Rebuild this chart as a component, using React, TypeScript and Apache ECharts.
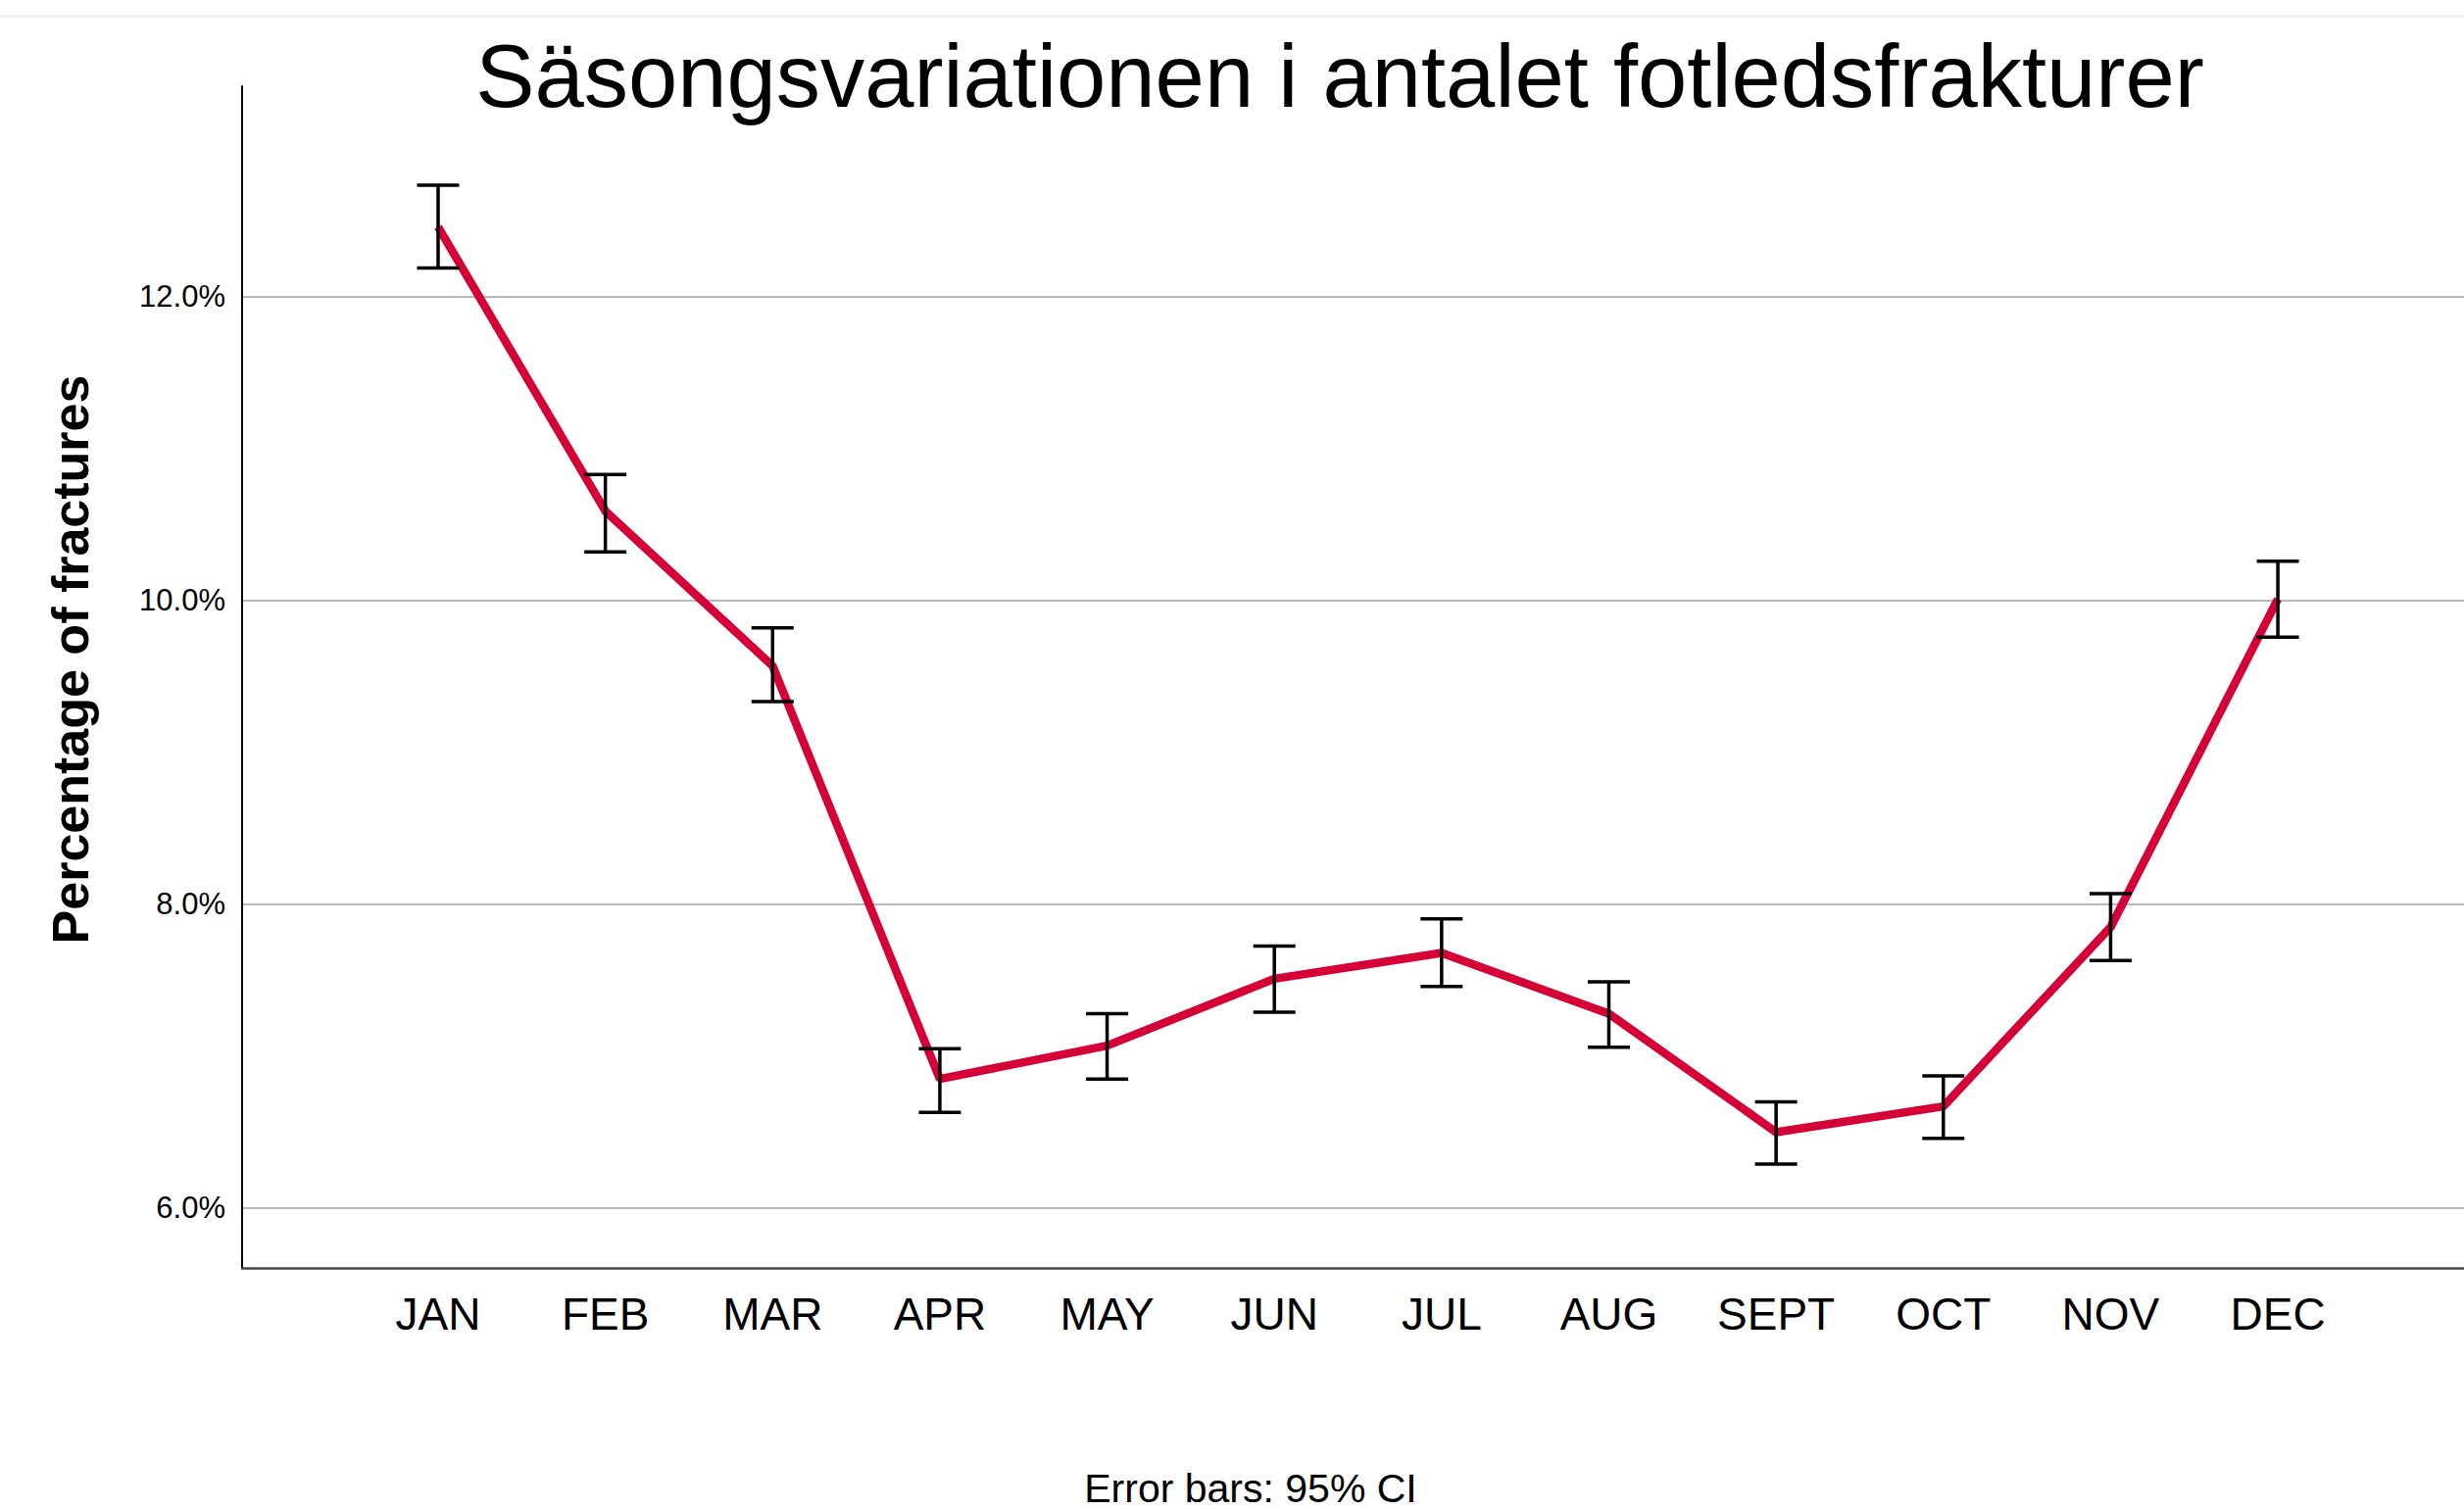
import React, { useEffect, useRef } from "react";
import * as echarts from "echarts";

const months = ["JAN", "FEB", "MAR", "APR", "MAY", "JUN", "JUL", "AUG", "SEPT", "OCT", "NOV", "DEC"];
const meanPct = [12.46, 10.59, 9.57, 6.85, 7.07, 7.51, 7.68, 7.28, 6.5, 6.67, 7.85, 10.01];
const lowerCI = [12.19, 10.32, 9.335, 6.63, 6.85, 7.29, 7.46, 7.06, 6.29, 6.46, 7.63, 9.76];
const upperCI = [12.735, 10.83, 9.82, 7.05, 7.28, 7.725, 7.905, 7.49, 6.7, 6.87, 8.07, 10.26];
const yTicks = [6, 8, 10, 12];

const titleText = "Säsongsvariationen i antalet fotledsfrakturer";
const yAxisTitle = "Percentage of fractures";
const footnote = "Error bars: 95% CI";

const FONT = "'Liberation Sans', Arial, Helvetica, sans-serif";

export default function App() {
  const ref = useRef<HTMLDivElement>(null);

  useEffect(() => {
    if (!ref.current) return;
    const chart = echarts.init(ref.current, undefined, { renderer: "svg" });
    const monthIdx = months.map((_, i) => i);

    const option: any = {
      animation: false,
      backgroundColor: "#ffffff",
      title: {
        text: titleText,
        left: 1362,
        top: 27,
        textAlign: "center",
        textStyle: { fontFamily: FONT, fontSize: 90.4, fontWeight: "normal", color: "#000" },
      },
      grid: { left: 247, right: 0, top: 88, bottom: 246, containLabel: false },
      xAxis: {
        type: "value",
        min: -1.172,
        max: 12.113,
        axisLine: { show: true, onZero: false, lineStyle: { color: "#444", width: 2.5 } },
        axisTick: { show: false, customValues: monthIdx },
        splitLine: { show: false },
        axisLabel: {
          customValues: monthIdx,
          formatter: (v: number) => months[Math.round(v)] ?? "",
          fontFamily: FONT,
          fontSize: 46,
          color: "#000",
          margin: 24,
        },
      },
      yAxis: {
        type: "value",
        min: 5.606,
        max: 13.387,
        axisLine: { show: true, onZero: false, lineStyle: { color: "#000", width: 2 } },
        axisTick: { show: false, customValues: yTicks },
        splitLine: { show: true, lineStyle: { color: "#b8b8b8", width: 2 } },
        axisLabel: {
          customValues: yTicks,
          formatter: (v: number) => v.toFixed(1) + "%",
          fontFamily: FONT,
          fontSize: 31,
          color: "#000",
          margin: 17,
        },
      },
      graphic: [
        { type: "rect", left: 0, top: 15, shape: { width: 2514, height: 3 }, style: { fill: "#eeeeee" }, silent: true },
        {
          type: "text",
          x: 72,
          y: 673,
          rotation: Math.PI / 2,
          style: {
            text: yAxisTitle,
            fontFamily: FONT,
            fontSize: 52,
            fontWeight: "bold",
            fill: "#000",
            align: "center",
            verticalAlign: "middle",
          },
        },
        {
          type: "text",
          x: 1276,
          y: 1539,
          style: {
            text: footnote,
            fontFamily: FONT,
            fontSize: 41,
            lineHeight: 41,
            fill: "#000",
            align: "center",
            verticalAlign: "bottom",
          },
        },
      ],
      series: [
        {
          type: "line",
          data: meanPct.map((v, i) => [i, v]),
          symbol: "none",
          lineStyle: { color: "#d40036", width: 8.5 },
          z: 2,
        },
        {
          type: "custom",
          z: 3,
          data: months.map((_, i) => [i, lowerCI[i], upperCI[i]]),
          renderItem: (params: any, api: any) => {
            const x = api.value(0);
            const lo = api.coord([x, api.value(1)]);
            const hi = api.coord([x, api.value(2)]);
            const hw = 21.5;
            const st = { stroke: "#000", lineWidth: 3.5 };
            return {
              type: "group",
              children: [
                { type: "line", shape: { x1: lo[0], y1: lo[1], x2: hi[0], y2: hi[1] }, style: st },
                { type: "line", shape: { x1: hi[0] - hw, y1: hi[1], x2: hi[0] + hw, y2: hi[1] }, style: st },
                { type: "line", shape: { x1: lo[0] - hw, y1: lo[1], x2: lo[0] + hw, y2: lo[1] }, style: st },
              ],
            };
          },
        },
      ],
    };

    chart.setOption(option);
    return () => chart.dispose();
  }, []);

  return (
    <div
      ref={ref}
      style={{ position: "absolute", left: 0, top: 0, width: 2514, height: 1540, background: "#fff" }}
    />
  );
}
